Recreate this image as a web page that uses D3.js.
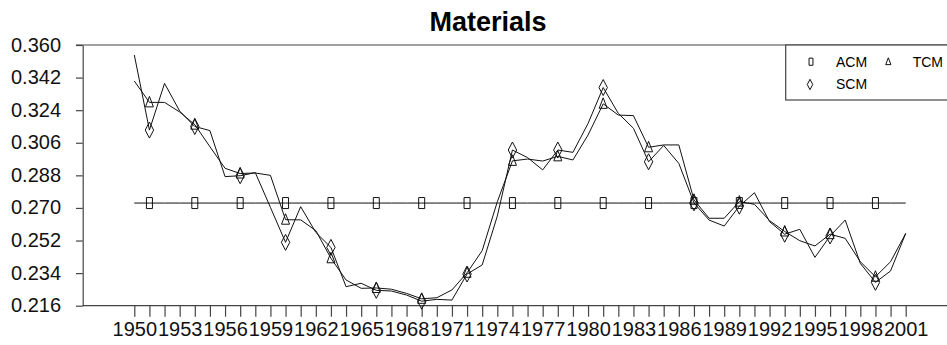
<!DOCTYPE html>
<html>

<head>
    <meta charset="utf-8">
    <style>
        body {
            margin: 0;
            background: #fff;
        }

        svg {
            display: block;
            font-family: 'Liberation Sans', Arial, sans-serif;
        }

        .axis .tick line,
        .axis .domain {
            stroke: #444;
            stroke-width: 1.2;
        }

        .axis .tick text {
            font-size: 20px;
            fill: #111;
        }

        .frame {
            stroke: #444;
            stroke-width: 1.2;
        }

        .series {
            fill: none;
            stroke: #111;
            stroke-width: 1;
        }

        .marker {
            fill: none;
            stroke: #111;
            stroke-width: 1;
        }

        .title {
            font-size: 27px;
            font-weight: bold;
        }

        .legend text {
            font-size: 14px;
        }
    </style>
</head>

<body>
    <svg width="947" height="345"></svg>

    <script src="https://d3js.org/d3.v7.min.js"></script>
    <script>
        // yearly values
        let years = [1950, 1951, 1952, 1953, 1954, 1955, 1956, 1957, 1958, 1959,
            1960, 1961, 1962, 1963, 1964, 1965, 1966, 1967, 1968, 1969,
            1970, 1971, 1972, 1973, 1974, 1975, 1976, 1977, 1978, 1979,
            1980, 1981, 1982, 1983, 1984, 1985, 1986, 1987, 1988, 1989,
            1990, 1991, 1992, 1993, 1994, 1995, 1996, 1997, 1998, 1999,
            2000, 2001]

        let acm = [0.2727, 0.2727, 0.2727, 0.2727, 0.2727, 0.2727, 0.2727, 0.2727, 0.2727, 0.2727,
            0.2727, 0.2727, 0.2727, 0.2727, 0.2727, 0.2727, 0.2727, 0.2727, 0.2727, 0.2727,
            0.2727, 0.2727, 0.2727, 0.2727, 0.2727, 0.2727, 0.2727, 0.2727, 0.2727, 0.2727,
            0.2727, 0.2727, 0.2727, 0.2727, 0.2727, 0.2727, 0.2727, 0.2727, 0.2727, 0.2727,
            0.2727, 0.2727, 0.2727, 0.2727, 0.2727, 0.2727, 0.2727, 0.2727, 0.2727, 0.2727,
            0.2727, 0.2727]

        let tcm = [0.3401, 0.3283, 0.3283, 0.3230, 0.3160, 0.3038, 0.2919, 0.2890, 0.2893, 0.2880,
            0.2635, 0.2634, 0.2575, 0.2422, 0.2302, 0.2256, 0.2258, 0.2251, 0.2228, 0.2198,
            0.2204, 0.2247, 0.2342, 0.2464, 0.2734, 0.2960, 0.2970, 0.2959, 0.2985, 0.2965,
            0.3103, 0.3275, 0.3213, 0.3210, 0.3035, 0.3048, 0.3048, 0.2745, 0.2643, 0.2643,
            0.2735, 0.2720, 0.2630, 0.2570, 0.2519, 0.2490, 0.2555, 0.2532, 0.2403, 0.2320,
            0.2403, 0.2559]

        let scm = [0.3545, 0.3130, 0.3388, 0.3235, 0.3150, 0.3127, 0.2873, 0.2878, 0.2895, 0.2703,
            0.2510, 0.2707, 0.2565, 0.2482, 0.2265, 0.2284, 0.2245, 0.2241, 0.2219, 0.2185,
            0.2195, 0.2191, 0.2335, 0.2385, 0.2655, 0.3020, 0.2978, 0.2910, 0.3020, 0.3007,
            0.3167, 0.3365, 0.3222, 0.3140, 0.2955, 0.3045, 0.2946, 0.2728, 0.2633, 0.2600,
            0.2710, 0.2784, 0.2624, 0.2555, 0.2582, 0.2427, 0.2545, 0.2633, 0.2394, 0.2289,
            0.2352, 0.2559]

        // years that carry a plotting symbol
        let markerYears = [1951, 1954, 1957, 1960, 1963, 1966, 1969, 1972, 1975,
            1978, 1981, 1984, 1987, 1990, 1993, 1996, 1999]

        let yTicks = [0.216, 0.234, 0.252, 0.270, 0.288, 0.306, 0.324, 0.342, 0.360]
        let xLabelYears = [1950, 1953, 1956, 1959, 1962, 1965, 1968, 1971, 1974,
            1977, 1980, 1983, 1986, 1989, 1992, 1995, 1998, 2001]

        let svg = d3.select("svg")

        let x = d3.scaleLinear()
            .domain([1950, 2001])
            .range([134.3, 905.7])

        let y = d3.scaleLinear()
            .domain([0.216, 0.360])
            .range([305.7, 45])

        let plotLeft = 82.7
        let plotRight = 947

        // frame lines (top and bottom run out past the window)
        svg.append("line")
            .attr("class", "frame")
            .attr("x1", 76).attr("x2", plotRight)
            .attr("y1", y(0.360)).attr("y2", y(0.360))

        svg.append("line")
            .attr("class", "frame")
            .attr("x1", plotLeft).attr("x2", plotRight)
            .attr("y1", y(0.216)).attr("y2", y(0.216))

        let yAxis = svg.append("g")
            .attr("class", "y axis")
            .attr("transform", `translate(${plotLeft},0)`)
            .call(d3.axisLeft(y)
                .tickValues(yTicks)
                .tickSize(6.7)
                .tickSizeOuter(0)
                .tickPadding(15)
                .tickFormat(d3.format(".3f")))

        yAxis.selectAll(".tick text").attr("dy", "0.3em")

        let xAxis = svg.append("g")
            .attr("class", "x axis")
            .attr("transform", `translate(0,${y(0.216)})`)
            .call(d3.axisBottom(x)
                .tickValues(years)
                .tickSize(11)
                .tickSizeOuter(0)
                .tickPadding(5.5)
                .tickFormat(d => xLabelYears.includes(d) ? d : ""))
            .call(g => g.select(".domain").remove())

        let line = d3.line()
            .x((d, i) => x(years[i]))
            .y(d => y(d))

        let seriesList = [
            { key: "ACM", values: acm, shape: "rect" },
            { key: "TCM", values: tcm, shape: "tri" },
            { key: "SCM", values: scm, shape: "diamond" }
        ]

        svg.append("g")
            .selectAll("path")
            .data(seriesList)
            .join("path")
            .attr("class", "series")
            .attr("d", d => line(d.values))

        // symbol outlines, sized like the glyphs in the reference
        function shapePath(shape, s) {
            if (shape == "rect") {
                return `M${-3 * s},${-5.5 * s}h${6 * s}v${11 * s}h${-6 * s}Z`
            } else if (shape == "tri") {
                return `M0,${-6 * s}L${4 * s},${4.5 * s}L${-4 * s},${4.5 * s}Z`
            } else {
                return `M0,${-8 * s}L${4.2 * s},0L0,${8 * s}L${-4.2 * s},0Z`
            }
        }

        seriesList.forEach(s => {
            svg.append("g")
                .selectAll("path")
                .data(markerYears)
                .join("path")
                .attr("class", "marker")
                .attr("transform", yr => `translate(${x(yr)},${y(s.values[years.indexOf(yr)])})`)
                .attr("d", shapePath(s.shape, 1))
        })

        // title
        svg.append("text")
            .attr("class", "title")
            .attr("x", 488)
            .attr("y", 31)
            .attr("text-anchor", "middle")
            .text("Materials")

        // legend box
        let legend = svg.append("g").attr("class", "legend")

        legend.append("rect")
            .attr("x", 785.7)
            .attr("y", y(0.360))
            .attr("width", 250)
            .attr("height", 100 - y(0.360))
            .attr("fill", "#fff")
            .attr("stroke", "#444")
            .attr("stroke-width", 1.2)

        let legendItems = [
            { key: "ACM", shape: "rect", mx: 811, tx: 836, ty: 67.3, my: 61.7 },
            { key: "TCM", shape: "tri", mx: 888.3, tx: 912.7, ty: 67.3, my: 61.7 },
            { key: "SCM", shape: "diamond", mx: 810, tx: 836, ty: 89.3, my: 84.5 }
        ]

        legendItems.forEach(d => {
            legend.append("path")
                .attr("class", "marker")
                .attr("transform", `translate(${d.mx},${d.my})`)
                .attr("d", shapePath(d.shape, 0.65))
            legend.append("text")
                .attr("x", d.tx)
                .attr("y", d.ty)
                .text(d.key)
        })
    </script>
</body>

</html>
